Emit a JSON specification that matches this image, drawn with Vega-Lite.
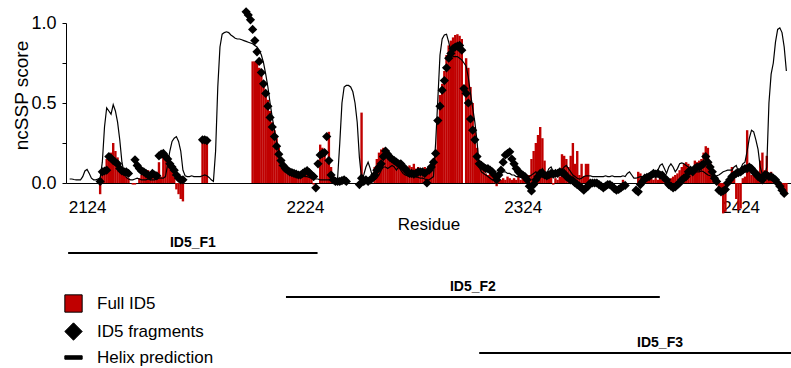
{
"$schema": "https://vega.github.io/schema/vega-lite/v6.json",
"width": 725, "height": 160,
"autosize": {"type": "none"},
"padding": {"left": 66, "top": 23, "right": 0, "bottom": 185},
"config": {"view": {"stroke": null}, "font": "Liberation Sans", "legend": {"symbolStrokeColor": "#000000", "symbolStrokeWidth": 1}},
"datasets": {
"full": [
{"residue":2130,"score":-0.07},{"residue":2131,"score":0.07},{"residue":2132,"score":0.07},{"residue":2133,"score":0.15},{"residue":2134,"score":0.16},{"residue":2135,"score":0.19},{"residue":2136,"score":0.25},{"residue":2137,"score":0.2},{"residue":2138,"score":0.16},{"residue":2139,"score":0.12},{"residue":2140,"score":0.08},{"residue":2141,"score":0.05},{"residue":2142,"score":0.04},{"residue":2143,"score":0.03},{"residue":2145,"score":-0.01},{"residue":2146,"score":-0.01},{"residue":2148,"score":0.03},{"residue":2149,"score":0.05},{"residue":2150,"score":0.06},{"residue":2151,"score":0.06},{"residue":2152,"score":0.08},{"residue":2153,"score":0.06},{"residue":2154,"score":0.04},{"residue":2155,"score":0.03},{"residue":2156,"score":0.04},{"residue":2157,"score":0.13},{"residue":2158,"score":0.04},{"residue":2159,"score":0.2},{"residue":2160,"score":0.18},{"residue":2161,"score":0.15},{"residue":2162,"score":0.12},{"residue":2163,"score":0.12},{"residue":2164,"score":0.04},{"residue":2165,"score":-0.04},{"residue":2166,"score":-0.07},{"residue":2167,"score":-0.1},{"residue":2168,"score":-0.115},
{"residue":2177,"score":0.27},{"residue":2178,"score":0.27},{"residue":2179,"score":0.27},
{"residue":2200,"score":0.76},{"residue":2201,"score":0.76},{"residue":2202,"score":0.75},{"residue":2203,"score":0.72},{"residue":2204,"score":0.67},{"residue":2205,"score":0.63},{"residue":2206,"score":0.58},{"residue":2207,"score":0.52},{"residue":2208,"score":0.45},{"residue":2209,"score":0.38},{"residue":2210,"score":0.33},{"residue":2211,"score":0.28},{"residue":2212,"score":0.22},{"residue":2213,"score":0.16},{"residue":2214,"score":0.13},{"residue":2215,"score":0.1},{"residue":2216,"score":0.08},{"residue":2217,"score":0.07},{"residue":2218,"score":0.06},{"residue":2219,"score":0.07},{"residue":2220,"score":0.05},{"residue":2221,"score":0.06},{"residue":2222,"score":0.07},{"residue":2223,"score":0.05},{"residue":2224,"score":0.06},{"residue":2225,"score":0.05},{"residue":2226,"score":0.04},{"residue":2227,"score":0.03},{"residue":2228,"score":-0.01},
{"residue":2231,"score":0.24},{"residue":2232,"score":0.22},{"residue":2233,"score":0.2},{"residue":2234,"score":0.13},{"residue":2235,"score":0.32},{"residue":2236,"score":0.1},{"residue":2237,"score":0.04},
{"residue":2250,"score":0.44},{"residue":2256,"score":0.1},{"residue":2257,"score":0.15},{"residue":2258,"score":0.19},{"residue":2259,"score":0.21},{"residue":2260,"score":0.22},{"residue":2261,"score":0.21},{"residue":2262,"score":0.2},{"residue":2263,"score":0.18},{"residue":2264,"score":0.15},{"residue":2265,"score":0.13},{"residue":2266,"score":0.12},{"residue":2267,"score":0.12},{"residue":2268,"score":0.11},{"residue":2269,"score":0.1},{"residue":2270,"score":0.09},{"residue":2271,"score":0.1},{"residue":2272,"score":0.11},{"residue":2273,"score":0.1},{"residue":2274,"score":0.12},{"residue":2275,"score":0.09},{"residue":2276,"score":0.1},{"residue":2277,"score":0.08},{"residue":2278,"score":0.09},{"residue":2279,"score":0.1},{"residue":2280,"score":0.09},{"residue":2281,"score":0.08},{"residue":2282,"score":0.09},{"residue":2283,"score":0.1},{"residue":2284,"score":0.2},{"residue":2285,"score":0.41},{"residue":2286,"score":0.55},{"residue":2287,"score":0.62},{"residue":2288,"score":0.7},{"residue":2289,"score":0.8},{"residue":2290,"score":0.86},{"residue":2291,"score":0.89},{"residue":2292,"score":0.91},{"residue":2293,"score":0.925},{"residue":2294,"score":0.93},{"residue":2295,"score":0.92},{"residue":2296,"score":0.9},{"residue":2298,"score":0.78},{"residue":2299,"score":0.72},{"residue":2300,"score":0.6},{"residue":2301,"score":0.5},{"residue":2302,"score":0.35},{"residue":2303,"score":0.22},{"residue":2304,"score":0.14},{"residue":2305,"score":0.1},{"residue":2306,"score":0.08},{"residue":2307,"score":0.06},{"residue":2308,"score":0.05},{"residue":2309,"score":0.07},{"residue":2310,"score":0.05},{"residue":2311,"score":0.04},{"residue":2312,"score":-0.02},{"residue":2313,"score":0.03},{"residue":2314,"score":0.02},{"residue":2315,"score":0.03},{"residue":2316,"score":0.02},{"residue":2317,"score":0.04},{"residue":2318,"score":0.03},{"residue":2319,"score":0.02},{"residue":2320,"score":0.03},{"residue":2321,"score":0.02},{"residue":2322,"score":0.04},{"residue":2323,"score":0.02},{"residue":2324,"score":0.03},{"residue":2325,"score":0.02},{"residue":2326,"score":0.03},{"residue":2327,"score":0.05},
{"residue":2328,"score":0.15},{"residue":2329,"score":0.2},{"residue":2330,"score":0.25},{"residue":2331,"score":0.3},{"residue":2332,"score":0.35},{"residue":2333,"score":0.28},{"residue":2334,"score":0.14},{"residue":2335,"score":0.05},{"residue":2336,"score":0.03},{"residue":2337,"score":0.04},{"residue":2338,"score":-0.01},{"residue":2339,"score":0.03},{"residue":2340,"score":0.02},{"residue":2341,"score":0.04},{"residue":2342,"score":0.18},{"residue":2343,"score":0.17},{"residue":2344,"score":0.15},{"residue":2345,"score":0.1},{"residue":2346,"score":0.17},{"residue":2347,"score":0.25},{"residue":2348,"score":0.12},{"residue":2349,"score":0.2},{"residue":2350,"score":0.05},{"residue":2351,"score":0.12},{"residue":2352,"score":0.04},{"residue":2353,"score":0.12},{"residue":2354,"score":0.12},{"residue":2355,"score":0.02},
{"residue":2370,"score":0.02},{"residue":2377,"score":0.07},{"residue":2378,"score":0.06},{"residue":2379,"score":0.04},{"residue":2380,"score":0.03},{"residue":2381,"score":0.05},{"residue":2382,"score":0.04},{"residue":2383,"score":0.03},{"residue":2384,"score":0.02},{"residue":2385,"score":0.03},{"residue":2386,"score":0.02},{"residue":2387,"score":0.04},{"residue":2388,"score":0.02},{"residue":2389,"score":0.03},{"residue":2390,"score":0.02},{"residue":2391,"score":0.02},{"residue":2392,"score":0.03},{"residue":2393,"score":0.04},{"residue":2394,"score":0.05},{"residue":2395,"score":0.06},{"residue":2396,"score":0.08},{"residue":2397,"score":0.1},{"residue":2398,"score":0.12},{"residue":2399,"score":0.13},{"residue":2400,"score":0.12},{"residue":2401,"score":0.1},{"residue":2402,"score":0.08},{"residue":2403,"score":0.14},{"residue":2404,"score":0.13},{"residue":2405,"score":0.14},{"residue":2406,"score":0.15},{"residue":2407,"score":0.19},{"residue":2408,"score":0.23},{"residue":2409,"score":0.22},{"residue":2410,"score":0.13},{"residue":2411,"score":0.07},{"residue":2412,"score":0.04},{"residue":2413,"score":0.01},{"residue":2414,"score":-0.04},{"residue":2415,"score":-0.05},{"residue":2416,"score":-0.19},{"residue":2417,"score":-0.18},{"residue":2418,"score":0.02},{"residue":2419,"score":0.04},{"residue":2420,"score":0.1},{"residue":2421,"score":0.03},{"residue":2422,"score":-0.1},{"residue":2423,"score":-0.17},{"residue":2424,"score":-0.16},{"residue":2425,"score":0.03},{"residue":2426,"score":0.04},{"residue":2427,"score":0.33},{"residue":2428,"score":0.1},{"residue":2429,"score":0.05},{"residue":2430,"score":0.05},{"residue":2431,"score":0.04},{"residue":2432,"score":0.07},{"residue":2433,"score":0.14},{"residue":2434,"score":0.19},{"residue":2435,"score":0.08},{"residue":2436,"score":0.17},{"residue":2437,"score":0.06},{"residue":2438,"score":0.07},{"residue":2439,"score":0.05},{"residue":2440,"score":0.03},{"residue":2441,"score":-0.01},{"residue":2442,"score":-0.04},{"residue":2443,"score":-0.06},{"residue":2444,"score":-0.07},{"residue":2445,"score":-0.07}
],
"fragments": [
{"residue":2130,"score":0.01},{"residue":2131,"score":0.07},{"residue":2132,"score":0.075},{"residue":2133,"score":0.08},{"residue":2134,"score":0.165},{"residue":2135,"score":0.155},{"residue":2136,"score":0.14},{"residue":2137,"score":0.13},{"residue":2138,"score":0.12},{"residue":2139,"score":0.09},{"residue":2140,"score":0.075},{"residue":2141,"score":0.07},{"residue":2142,"score":0.07},{"residue":2143,"score":0.06},{"residue":2146,"score":0.145},{"residue":2147,"score":0.11},{"residue":2148,"score":0.09},{"residue":2149,"score":0.075},{"residue":2150,"score":0.07},{"residue":2151,"score":0.06},{"residue":2152,"score":0.05},{"residue":2153,"score":0.045},{"residue":2154,"score":0.06},{"residue":2155,"score":0.05},{"residue":2156,"score":0.045},{"residue":2157,"score":0.17},{"residue":2158,"score":0.18},{"residue":2159,"score":0.185},{"residue":2160,"score":0.165},{"residue":2161,"score":0.15},{"residue":2162,"score":0.12},{"residue":2163,"score":0.1},{"residue":2164,"score":0.08},{"residue":2165,"score":0.05},{"residue":2166,"score":0.03},{"residue":2167,"score":0.02},{"residue":2168,"score":0.02},{"residue":2177,"score":0.27},{"residue":2178,"score":0.27},{"residue":2179,"score":0.265},
{"residue":2197,"score":1.07},{"residue":2198,"score":1.05},{"residue":2199,"score":1.02},{"residue":2200,"score":0.96},{"residue":2201,"score":0.89},{"residue":2202,"score":0.82},{"residue":2203,"score":0.76},{"residue":2204,"score":0.69},{"residue":2205,"score":0.62},{"residue":2206,"score":0.56},{"residue":2207,"score":0.48},{"residue":2208,"score":0.41},{"residue":2209,"score":0.35},{"residue":2210,"score":0.29},{"residue":2211,"score":0.23},{"residue":2212,"score":0.18},{"residue":2213,"score":0.14},{"residue":2214,"score":0.11},{"residue":2215,"score":0.09},{"residue":2216,"score":0.08},{"residue":2217,"score":0.07},{"residue":2218,"score":0.065},{"residue":2219,"score":0.06},{"residue":2220,"score":0.055},{"residue":2221,"score":0.05},{"residue":2222,"score":0.05},{"residue":2223,"score":0.06},{"residue":2224,"score":0.07},{"residue":2225,"score":0.077},{"residue":2226,"score":0.065},{"residue":2227,"score":0.05},{"residue":2228,"score":0.04},{"residue":2229,"score":-0.03},{"residue":2230,"score":0.12},{"residue":2231,"score":0.175},{"residue":2232,"score":0.185},{"residue":2233,"score":0.19},{"residue":2234,"score":0.29},{"residue":2235,"score":0.14},{"residue":2236,"score":0.05},{"residue":2237,"score":0.02},{"residue":2238,"score":0.01},{"residue":2239,"score":0.01},{"residue":2240,"score":0.01},{"residue":2241,"score":0.015},{"residue":2242,"score":0.02},{"residue":2243,"score":0.01},
{"residue":2249,"score":-0.01},{"residue":2250,"score":0.03},{"residue":2251,"score":0.01},{"residue":2252,"score":0.02},{"residue":2253,"score":0.01},{"residue":2254,"score":0.02},{"residue":2255,"score":0.03},{"residue":2256,"score":0.05},{"residue":2257,"score":0.08},{"residue":2258,"score":0.1},{"residue":2259,"score":0.12},{"residue":2260,"score":0.165},{"residue":2261,"score":0.2},{"residue":2262,"score":0.18},{"residue":2263,"score":0.16},{"residue":2264,"score":0.15},{"residue":2265,"score":0.14},{"residue":2266,"score":0.13},{"residue":2267,"score":0.12},{"residue":2268,"score":0.12},{"residue":2269,"score":0.1},{"residue":2270,"score":0.09},{"residue":2271,"score":0.07},{"residue":2272,"score":0.06},{"residue":2273,"score":0.06},{"residue":2274,"score":0.055},{"residue":2275,"score":0.06},{"residue":2276,"score":0.07},{"residue":2277,"score":0.07},{"residue":2278,"score":0.07},{"residue":2279,"score":0.06},{"residue":2280,"score":0.0},{"residue":2281,"score":0.08},{"residue":2282,"score":0.1},{"residue":2283,"score":0.13},{"residue":2284,"score":0.185},{"residue":2285,"score":0.39},{"residue":2286,"score":0.48},{"residue":2287,"score":0.58},{"residue":2288,"score":0.64},{"residue":2289,"score":0.72},{"residue":2290,"score":0.78},{"residue":2291,"score":0.81},{"residue":2292,"score":0.84},{"residue":2293,"score":0.85},{"residue":2294,"score":0.855},{"residue":2295,"score":0.86},{"residue":2296,"score":0.83},{"residue":2297,"score":0.59},{"residue":2298,"score":0.56},{"residue":2299,"score":0.5},{"residue":2300,"score":0.4},{"residue":2301,"score":0.33},{"residue":2302,"score":0.27},{"residue":2303,"score":0.165},{"residue":2304,"score":0.12},{"residue":2305,"score":0.11},{"residue":2306,"score":0.1},{"residue":2307,"score":0.09},{"residue":2308,"score":0.09},{"residue":2309,"score":0.08},{"residue":2310,"score":0.07},{"residue":2311,"score":0.05},{"residue":2312,"score":0.02},{"residue":2313,"score":0.05},{"residue":2314,"score":0.08},{"residue":2315,"score":0.13},{"residue":2316,"score":0.175},{"residue":2317,"score":0.185},{"residue":2318,"score":0.195},{"residue":2319,"score":0.15},{"residue":2320,"score":0.12},{"residue":2321,"score":0.09},{"residue":2322,"score":0.07},{"residue":2323,"score":0.06},{"residue":2324,"score":0.05},{"residue":2325,"score":0.04},{"residue":2326,"score":0.02},{"residue":2327,"score":-0.02},{"residue":2328,"score":-0.05},{"residue":2329,"score":-0.01},{"residue":2330,"score":0.02},{"residue":2331,"score":0.04},{"residue":2332,"score":0.06},{"residue":2333,"score":0.06},{"residue":2334,"score":0.05},{"residue":2335,"score":0.045},{"residue":2336,"score":0.05},{"residue":2337,"score":0.06},{"residue":2338,"score":0.055},{"residue":2339,"score":0.06},{"residue":2340,"score":0.06},{"residue":2341,"score":0.07},{"residue":2342,"score":0.065},{"residue":2343,"score":0.06},{"residue":2344,"score":0.04},{"residue":2345,"score":0.03},{"residue":2346,"score":0.02},{"residue":2347,"score":0.015},{"residue":2348,"score":0.0},{"residue":2349,"score":-0.01},{"residue":2350,"score":-0.02},{"residue":2351,"score":-0.03},{"residue":2352,"score":-0.045},{"residue":2353,"score":-0.03},{"residue":2354,"score":-0.02},{"residue":2355,"score":0.0},{"residue":2356,"score":0.0},{"residue":2357,"score":0.0},{"residue":2358,"score":0.0},{"residue":2359,"score":-0.01},{"residue":2360,"score":-0.02},{"residue":2361,"score":-0.03},{"residue":2362,"score":-0.02},{"residue":2363,"score":-0.01},{"residue":2364,"score":-0.01},{"residue":2365,"score":-0.02},{"residue":2366,"score":-0.035},{"residue":2367,"score":-0.045},{"residue":2368,"score":-0.04},{"residue":2369,"score":-0.03},{"residue":2370,"score":-0.02},{"residue":2371,"score":-0.015},{"residue":2376,"score":-0.045},{"residue":2377,"score":-0.055},{"residue":2378,"score":-0.01},{"residue":2379,"score":0.01},{"residue":2380,"score":0.03},{"residue":2381,"score":0.035},{"residue":2382,"score":0.04},{"residue":2383,"score":0.05},{"residue":2384,"score":0.06},{"residue":2385,"score":0.055},{"residue":2386,"score":0.06},{"residue":2387,"score":0.05},{"residue":2388,"score":0.05},{"residue":2389,"score":0.03},{"residue":2390,"score":0.02},{"residue":2391,"score":-0.01},{"residue":2392,"score":-0.02},{"residue":2393,"score":-0.03},{"residue":2394,"score":-0.025},{"residue":2395,"score":-0.01},{"residue":2396,"score":0.0},{"residue":2397,"score":0.02},{"residue":2398,"score":0.03},{"residue":2399,"score":0.04},{"residue":2400,"score":0.07},{"residue":2401,"score":0.08},{"residue":2402,"score":0.07},{"residue":2403,"score":0.09},{"residue":2404,"score":0.1},{"residue":2405,"score":0.1},{"residue":2406,"score":0.11},{"residue":2407,"score":0.12},{"residue":2408,"score":0.165},{"residue":2409,"score":0.13},{"residue":2410,"score":0.1},{"residue":2411,"score":0.07},{"residue":2412,"score":0.03},{"residue":2413,"score":0.01},{"residue":2414,"score":-0.045},{"residue":2415,"score":-0.055},{"residue":2416,"score":-0.05},{"residue":2417,"score":-0.04},{"residue":2418,"score":0.0},{"residue":2419,"score":0.02},{"residue":2420,"score":0.04},{"residue":2421,"score":0.05},{"residue":2422,"score":0.06},{"residue":2423,"score":0.065},{"residue":2424,"score":0.07},{"residue":2425,"score":0.08},{"residue":2426,"score":0.09},{"residue":2427,"score":0.09},{"residue":2428,"score":0.1},{"residue":2429,"score":0.09},{"residue":2430,"score":0.07},{"residue":2431,"score":0.06},{"residue":2432,"score":0.04},{"residue":2433,"score":0.03},{"residue":2434,"score":0.02},{"residue":2435,"score":0.05},{"residue":2436,"score":0.05},{"residue":2437,"score":0.04},{"residue":2438,"score":0.04},{"residue":2439,"score":0.03},{"residue":2440,"score":0.02},{"residue":2441,"score":0.0},{"residue":2442,"score":-0.02},{"residue":2443,"score":-0.045},{"residue":2444,"score":-0.065}
],
"helix": [
{"residue":2116,"score":0.025},{"residue":2117,"score":0.025},{"residue":2118,"score":0.022},{"residue":2119,"score":0.02},{"residue":2120,"score":0.02},{"residue":2121,"score":0.02},{"residue":2122,"score":0.04},{"residue":2123,"score":0.075},{"residue":2124,"score":0.085},{"residue":2125,"score":0.06},{"residue":2126,"score":0.03},{"residue":2127,"score":0.02},{"residue":2128,"score":0.02},{"residue":2129,"score":0.025},{"residue":2130,"score":0.03},{"residue":2131,"score":0.13},{"residue":2132,"score":0.35},{"residue":2133,"score":0.47},{"residue":2134,"score":0.45},{"residue":2135,"score":0.43},{"residue":2136,"score":0.49},{"residue":2137,"score":0.45},{"residue":2138,"score":0.38},{"residue":2139,"score":0.27},{"residue":2140,"score":0.13},{"residue":2141,"score":0.06},{"residue":2142,"score":0.035},{"residue":2143,"score":0.025},{"residue":2144,"score":0.02},{"residue":2145,"score":0.02},{"residue":2146,"score":0.025},{"residue":2147,"score":0.03},{"residue":2148,"score":0.025},{"residue":2149,"score":0.02},{"residue":2150,"score":0.02},{"residue":2151,"score":0.02},{"residue":2152,"score":0.025},{"residue":2153,"score":0.02},{"residue":2154,"score":0.02},{"residue":2155,"score":0.02},{"residue":2156,"score":0.025},{"residue":2157,"score":0.03},{"residue":2158,"score":0.03},{"residue":2159,"score":0.03},{"residue":2160,"score":0.04},{"residue":2161,"score":0.12},{"residue":2162,"score":0.2},{"residue":2163,"score":0.26},{"residue":2164,"score":0.28},{"residue":2165,"score":0.29},{"residue":2166,"score":0.26},{"residue":2167,"score":0.2},{"residue":2168,"score":0.08},{"residue":2169,"score":0.045},{"residue":2170,"score":0.04},{"residue":2171,"score":0.04},{"residue":2172,"score":0.045},{"residue":2173,"score":0.04},{"residue":2174,"score":0.04},{"residue":2175,"score":0.04},{"residue":2176,"score":0.04},{"residue":2177,"score":0.045},{"residue":2178,"score":0.05},{"residue":2179,"score":0.045},{"residue":2180,"score":0.035},{"residue":2181,"score":0.02},{"residue":2182,"score":0.01},{"residue":2183,"score":0.2},{"residue":2184,"score":0.6},{"residue":2185,"score":0.85},{"residue":2186,"score":0.93},{"residue":2187,"score":0.94},{"residue":2188,"score":0.945},{"residue":2189,"score":0.94},{"residue":2190,"score":0.925},{"residue":2191,"score":0.915},{"residue":2192,"score":0.905},{"residue":2193,"score":0.9},{"residue":2194,"score":0.9},{"residue":2195,"score":0.895},{"residue":2196,"score":0.89},{"residue":2197,"score":0.885},{"residue":2198,"score":0.88},{"residue":2199,"score":0.875},{"residue":2200,"score":0.87},{"residue":2201,"score":0.86},{"residue":2202,"score":0.85},{"residue":2203,"score":0.83},{"residue":2204,"score":0.8},{"residue":2205,"score":0.75},{"residue":2206,"score":0.68},{"residue":2207,"score":0.6},{"residue":2208,"score":0.5},{"residue":2209,"score":0.41},{"residue":2210,"score":0.33},{"residue":2211,"score":0.26},{"residue":2212,"score":0.19},{"residue":2213,"score":0.12},{"residue":2214,"score":0.08},{"residue":2215,"score":0.07},{"residue":2216,"score":0.07},{"residue":2217,"score":0.065},{"residue":2218,"score":0.06},{"residue":2219,"score":0.06},{"residue":2220,"score":0.055},{"residue":2221,"score":0.05},{"residue":2222,"score":0.05},{"residue":2223,"score":0.045},{"residue":2224,"score":0.04},{"residue":2225,"score":0.04},{"residue":2226,"score":0.035},{"residue":2227,"score":0.03},{"residue":2228,"score":0.03},{"residue":2229,"score":0.025},{"residue":2230,"score":0.025},{"residue":2231,"score":0.02},{"residue":2232,"score":0.02},{"residue":2233,"score":0.02},{"residue":2234,"score":0.02},{"residue":2235,"score":0.02},{"residue":2236,"score":0.02},{"residue":2237,"score":0.02},{"residue":2238,"score":0.02},{"residue":2239,"score":0.03},{"residue":2240,"score":0.25},{"residue":2241,"score":0.5},{"residue":2242,"score":0.6},{"residue":2243,"score":0.61},{"residue":2244,"score":0.61},{"residue":2245,"score":0.6},{"residue":2246,"score":0.57},{"residue":2247,"score":0.5},{"residue":2248,"score":0.38},{"residue":2249,"score":0.16},{"residue":2250,"score":0.03},{"residue":2251,"score":0.05},{"residue":2252,"score":0.1},{"residue":2253,"score":0.13},{"residue":2254,"score":0.09},{"residue":2255,"score":0.04},{"residue":2256,"score":0.02},{"residue":2257,"score":0.03},{"residue":2258,"score":0.05},{"residue":2259,"score":0.08},{"residue":2260,"score":0.1},{"residue":2261,"score":0.1},{"residue":2262,"score":0.09},{"residue":2263,"score":0.1},{"residue":2264,"score":0.11},{"residue":2265,"score":0.1},{"residue":2266,"score":0.08},{"residue":2267,"score":0.1},{"residue":2268,"score":0.08},{"residue":2269,"score":0.06},{"residue":2270,"score":0.05},{"residue":2271,"score":0.045},{"residue":2272,"score":0.04},{"residue":2273,"score":0.04},{"residue":2274,"score":0.05},{"residue":2275,"score":0.04},{"residue":2276,"score":0.035},{"residue":2277,"score":0.03},{"residue":2278,"score":0.03},{"residue":2279,"score":0.025},{"residue":2280,"score":0.02},{"residue":2281,"score":0.02},{"residue":2282,"score":0.03},{"residue":2283,"score":0.04},{"residue":2284,"score":0.25},{"residue":2285,"score":0.52},{"residue":2286,"score":0.8},{"residue":2287,"score":0.9},{"residue":2288,"score":0.925},{"residue":2289,"score":0.93},{"residue":2290,"score":0.88},{"residue":2291,"score":0.82},{"residue":2292,"score":0.79},{"residue":2293,"score":0.79},{"residue":2294,"score":0.79},{"residue":2295,"score":0.78},{"residue":2296,"score":0.77},{"residue":2297,"score":0.75},{"residue":2298,"score":0.73},{"residue":2299,"score":0.66},{"residue":2300,"score":0.56},{"residue":2301,"score":0.47},{"residue":2302,"score":0.38},{"residue":2303,"score":0.26},{"residue":2304,"score":0.1},{"residue":2305,"score":0.07},{"residue":2306,"score":0.06},{"residue":2307,"score":0.05},{"residue":2308,"score":0.04},{"residue":2309,"score":0.03},{"residue":2310,"score":0.02},{"residue":2311,"score":0.02},{"residue":2312,"score":0.02},{"residue":2313,"score":0.04},{"residue":2314,"score":0.06},{"residue":2315,"score":0.07},{"residue":2316,"score":0.07},{"residue":2317,"score":0.06},{"residue":2318,"score":0.06},{"residue":2319,"score":0.05},{"residue":2320,"score":0.05},{"residue":2321,"score":0.04},{"residue":2322,"score":0.04},{"residue":2323,"score":0.035},{"residue":2324,"score":0.03},{"residue":2325,"score":0.03},{"residue":2326,"score":0.04},{"residue":2327,"score":0.04},{"residue":2328,"score":0.05},{"residue":2329,"score":0.06},{"residue":2330,"score":0.07},{"residue":2331,"score":0.06},{"residue":2332,"score":0.07},{"residue":2333,"score":0.09},{"residue":2334,"score":0.07},{"residue":2335,"score":0.06},{"residue":2336,"score":0.09},{"residue":2337,"score":0.1},{"residue":2338,"score":0.07},{"residue":2339,"score":0.05},{"residue":2340,"score":0.06},{"residue":2341,"score":0.07},{"residue":2342,"score":0.08},{"residue":2343,"score":0.1},{"residue":2344,"score":0.11},{"residue":2345,"score":0.09},{"residue":2346,"score":0.07},{"residue":2347,"score":0.05},{"residue":2348,"score":0.04},{"residue":2349,"score":0.03},{"residue":2350,"score":0.025},{"residue":2351,"score":0.03},{"residue":2352,"score":0.04},{"residue":2353,"score":0.045},{"residue":2354,"score":0.045},{"residue":2355,"score":0.045},{"residue":2356,"score":0.04},{"residue":2357,"score":0.04},{"residue":2358,"score":0.04},{"residue":2359,"score":0.04},{"residue":2360,"score":0.04},{"residue":2361,"score":0.04},{"residue":2362,"score":0.045},{"residue":2363,"score":0.04},{"residue":2364,"score":0.04},{"residue":2365,"score":0.045},{"residue":2366,"score":0.04},{"residue":2367,"score":0.04},{"residue":2368,"score":0.04},{"residue":2369,"score":0.04},{"residue":2370,"score":0.045},{"residue":2371,"score":0.04},{"residue":2372,"score":0.06},{"residue":2373,"score":0.07},{"residue":2374,"score":0.05},{"residue":2375,"score":0.03},{"residue":2376,"score":0.03},{"residue":2377,"score":0.035},{"residue":2378,"score":0.04},{"residue":2379,"score":0.04},{"residue":2380,"score":0.04},{"residue":2381,"score":0.04},{"residue":2382,"score":0.04},{"residue":2383,"score":0.04},{"residue":2384,"score":0.04},{"residue":2385,"score":0.06},{"residue":2386,"score":0.08},{"residue":2387,"score":0.11},{"residue":2388,"score":0.12},{"residue":2389,"score":0.09},{"residue":2390,"score":0.06},{"residue":2391,"score":0.1},{"residue":2392,"score":0.12},{"residue":2393,"score":0.1},{"residue":2394,"score":0.07},{"residue":2395,"score":0.09},{"residue":2396,"score":0.12},{"residue":2397,"score":0.125},{"residue":2398,"score":0.12},{"residue":2399,"score":0.11},{"residue":2400,"score":0.1},{"residue":2401,"score":0.085},{"residue":2402,"score":0.08},{"residue":2403,"score":0.075},{"residue":2404,"score":0.07},{"residue":2405,"score":0.07},{"residue":2406,"score":0.075},{"residue":2407,"score":0.07},{"residue":2408,"score":0.06},{"residue":2409,"score":0.05},{"residue":2410,"score":0.045},{"residue":2411,"score":0.04},{"residue":2412,"score":0.04},{"residue":2413,"score":0.045},{"residue":2414,"score":0.05},{"residue":2415,"score":0.06},{"residue":2416,"score":0.07},{"residue":2417,"score":0.075},{"residue":2418,"score":0.08},{"residue":2419,"score":0.08},{"residue":2420,"score":0.08},{"residue":2421,"score":0.1},{"residue":2422,"score":0.11},{"residue":2423,"score":0.07},{"residue":2424,"score":0.09},{"residue":2425,"score":0.12},{"residue":2426,"score":0.13},{"residue":2427,"score":0.2},{"residue":2428,"score":0.28},{"residue":2429,"score":0.33},{"residue":2430,"score":0.32},{"residue":2431,"score":0.27},{"residue":2432,"score":0.21},{"residue":2433,"score":0.1},{"residue":2434,"score":0.05},{"residue":2435,"score":0.04},{"residue":2436,"score":0.1},{"residue":2437,"score":0.5},{"residue":2438,"score":0.68},{"residue":2439,"score":0.75},{"residue":2440,"score":0.88},{"residue":2441,"score":0.96},{"residue":2442,"score":0.97},{"residue":2443,"score":0.94},{"residue":2444,"score":0.85},{"residue":2445,"score":0.7}
],
"constructs": [
{"fragment":"ID5_F1","residue":2115.3,"end":2229.8,"track":1},
{"fragment":"ID5_F2","residue":2215.3,"end":2386.9,"track":2},
{"fragment":"ID5_F3","residue":2304.0,"end":2470,"track":3}
]
},
"layer": [
{"data": {"name": "full"},
 "mark": {"type": "bar", "color": "#c00000", "width": 2.4},
 "encoding": {
  "x": {"field": "residue", "type": "quantitative",
   "scale": {"domain": [2116.62, 2444.83], "nice": false, "zero": false},
   "axis": {"values": [2124, 2224, 2324, 2424], "format": "d", "ticks": false, "tickSize": 0, "grid": false,
    "domainColor": "#000000", "domainWidth": 1, "labelFontSize": 17, "labelPadding": 16, "labelColor": "#000000",
    "title": "Residue", "titleFontSize": 17, "titleFontWeight": "normal", "titleColor": "#000000", "titleY": 33}},
  "y": {"field": "score", "type": "quantitative",
  "scale": {"domain": [0, 1], "nice": false},
  "axis": {"values": [0, 0.25, 0.5, 0.75, 1], "labelExpr": "datum.value == 0.25 || datum.value == 0.75 ? '' : format(datum.value, '.1f')",
   "grid": false, "domainColor": "#000000", "tickColor": "#000000", "tickSize": 4, "labelPadding": 6, "labelFontSize": 18, "labelColor": "#000000",
   "title": "ncSSP score", "titleFontSize": 19, "titleFontWeight": "normal", "titleColor": "#000000", "titleX": -35, "titleY": 72}}}
},
{"data": {"name": "helix"},
 "mark": {"type": "line", "color": "#000000", "strokeWidth": 1.2},
 "encoding": {
  "x": {"field": "residue", "type": "quantitative", "title": "Residue"},
  "y": {"field": "score", "type": "quantitative", "scale": {"domain": [0, 1], "nice": false}, "axis": null}}
},
{"data": {"name": "fragments"},
 "mark": {"type": "point", "filled": true, "size": 85, "opacity": 1},
 "encoding": {
  "x": {"field": "residue", "type": "quantitative", "title": "Residue"},
  "y": {"field": "score", "type": "quantitative", "scale": {"domain": [0, 1], "nice": false}, "axis": null},
  "color": {"datum": "ID5 fragments",
   "scale": {"domain": ["Full ID5", "ID5 fragments", "Helix prediction"], "range": ["#c00000", "#000000", "#000000"]},
   "legend": {"orient": "none", "legendX": -2, "legendY": 271, "title": null, "symbolSize": 300, "labelFontSize": 17, "labelColor": "#000000", "rowPadding": 5, "labelOffset": 14, "padding": 0}},
  "shape": {"datum": "ID5 fragments",
   "scale": {"domain": ["Full ID5", "ID5 fragments", "Helix prediction"], "range": ["square", "diamond", "M-1,-0.2H1V0.2H-1Z"]},
   "legend": {"orient": "none", "legendX": -2, "legendY": 271, "title": null, "symbolSize": 300, "labelFontSize": 17, "labelColor": "#000000", "rowPadding": 5, "labelOffset": 14, "padding": 0}}
 }
},
{"data": {"name": "constructs"},
 "mark": {"type": "rule", "color": "#000000", "strokeWidth": 2},
 "encoding": {
  "x": {"field": "residue", "type": "quantitative", "title": "Residue"},
  "x2": {"field": "end"},
  "y": {"field": "track", "type": "quantitative", "scale": {"domain": [1, 2, 3], "range": [230, 274, 330]}, "axis": null}
 }
},
{"data": {"name": "constructs"},
 "transform": [{"calculate": "(datum.residue + datum.end) / 2", "as": "mid"}],
 "mark": {"type": "text", "fontWeight": "bold", "fontSize": 14, "color": "#000000", "baseline": "alphabetic", "align": "center", "dy": -6},
 "encoding": {
  "x": {"field": "mid", "type": "quantitative", "title": "Residue"},
  "y": {"field": "track", "type": "quantitative", "scale": {"domain": [1, 2, 3], "range": [230, 274, 330]}, "axis": null},
  "text": {"field": "fragment"}
 }
}
],
"resolve": {"scale": {"y": "independent"}}
}
